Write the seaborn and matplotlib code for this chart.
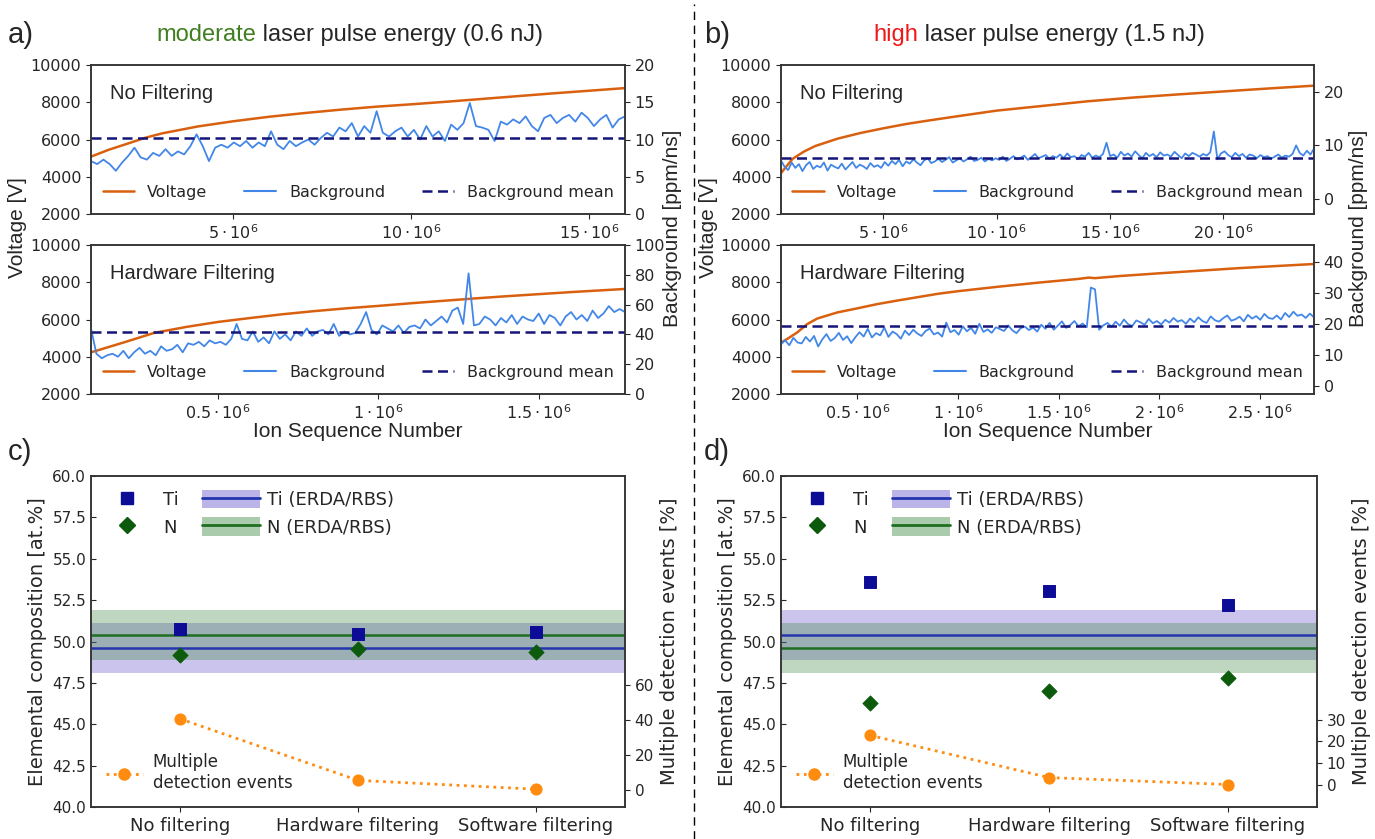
import matplotlib
matplotlib.use("Agg")
import matplotlib.pyplot as plt
from matplotlib.lines import Line2D
from matplotlib.patches import Patch
from matplotlib.legend_handler import HandlerTuple
import seaborn as sns
import numpy as np

# ion sequence numbers are in units of 1e6
# a) moderate pulse energy, no filtering
volt_a1_ion = [1.0, 1.5, 2.0, 2.5, 3.0, 4.0, 5.0, 6.0, 7.0, 8.0, 9.0, 10.0, 11.0, 12.0, 13.0, 14.0, 15.0, 16.0]
volt_a1 = [5080, 5450, 5760, 6080, 6330, 6700, 6980, 7220, 7420, 7600, 7760, 7890, 8030, 8180, 8330, 8480, 8620, 8760]
bg_a1 = [7.1, 6.7, 7.3, 6.7, 5.8, 6.9, 7.8, 8.9, 7.6, 7.3,
         8.2, 7.8, 8.7, 7.8, 8.4, 8.0, 9.1, 10.7, 9.1, 7.1,
         8.9, 9.3, 8.9, 9.6, 9.1, 9.8, 8.9, 9.6, 9.1, 11.1,
         9.3, 8.7, 9.8, 9.1, 9.6, 10.0, 9.3, 10.2, 10.9, 10.4,
         11.6, 11.1, 12.2, 10.4, 11.8, 10.9, 13.8, 10.9, 10.4, 11.1,
         11.6, 10.4, 11.3, 10.0, 11.8, 10.4, 11.1, 9.8, 12.0, 11.3,
         12.2, 14.9, 11.8, 11.6, 11.3, 9.8, 12.4, 12.0, 12.7, 12.2,
         13.1, 11.8, 11.1, 12.9, 13.3, 12.2, 12.9, 13.3, 12.4, 13.6,
         12.9, 11.8, 12.7, 13.3, 11.6, 12.7, 13.1]
bg_a1_span = (1.0, 16.0)
bg_a1_mean = 10.2

# a) moderate pulse energy, hardware filtering
volt_a2_ion = [0.10, 0.15, 0.20, 0.30, 0.40, 0.50, 0.60, 0.70, 0.80, 0.90, 1.00, 1.10, 1.20, 1.30, 1.40, 1.50, 1.60, 1.70, 1.77]
volt_a2 = [4220, 4480, 4740, 5280, 5600, 5870, 6080, 6280, 6450, 6600, 6730, 6870, 7000, 7130, 7250, 7360, 7470, 7570, 7640]
bg_a2 = [44, 27, 24, 26, 27, 25, 29, 24, 28, 31,
         27, 29, 26, 32, 29, 30, 33, 28, 34, 33,
         35, 32, 36, 34, 35, 33, 37, 47, 37, 36,
         42, 35, 38, 34, 42, 37, 40, 36, 42, 39,
         44, 39, 42, 43, 40, 47, 39, 42, 40, 41,
         47, 55, 43, 40, 46, 44, 42, 46, 41, 45,
         46, 44, 50, 46, 49, 52, 48, 56, 58, 47,
         81, 46, 47, 52, 50, 46, 51, 48, 53, 47,
         52, 50, 49, 54, 47, 53, 51, 46, 52, 55,
         50, 53, 49, 56, 51, 54, 59, 55, 57, 55]
bg_a2_span = (0.103, 1.77)
bg_a2_mean = 41.8

# b) high pulse energy, no filtering
volt_b1_ion = [0.49, 1.0, 1.5, 2.0, 3.0, 4.0, 5.0, 6.0, 7.0, 8.0, 10.0, 12.0, 14.0, 16.0, 18.0, 20.0, 22.0, 24.0]
volt_b1 = [4200, 4960, 5350, 5650, 6050, 6350, 6600, 6830, 7020, 7200, 7550, 7800, 8050, 8250, 8420, 8580, 8740, 8890]
bg_b1 = [7.2, 6.0, 5.4, 6.8, 5.8, 6.5, 5.2, 6.3, 6.9, 5.6, 6.2, 5.9, 6.8, 5.3, 6.4, 6.0, 5.7, 6.6, 5.5, 6.2,
         6.9, 5.8, 6.4, 6.1, 5.6, 6.7, 6.0, 6.3,
         5.8, 6.9, 6.2, 7.1, 6.5, 7.3, 6.1, 7.0, 6.6, 7.4, 6.8, 6.3, 7.2, 7.6, 6.7, 7.0,
         7.5, 6.9, 7.3, 7.8, 6.8, 7.2, 7.6, 7.0, 7.4, 7.9, 7.1, 7.3, 7.7, 7.0, 7.5, 7.2,
         7.6, 7.3, 7.9, 7.1, 7.5, 8.0, 7.4, 7.7, 8.1, 7.3, 7.8, 8.4, 7.6, 7.9, 8.2, 7.5,
         8.0, 7.7, 8.3, 7.6, 8.5, 7.8, 8.0, 7.4, 8.2, 7.9, 8.6, 7.7, 8.1, 7.8, 8.4, 10.5,
         8.0, 8.3, 7.7, 8.8, 8.1, 8.5, 7.9, 8.9, 8.2, 7.6, 8.6, 8.0, 8.4, 7.8, 8.7, 8.1,
         8.3, 7.9, 8.8, 8.2, 7.6, 8.5, 8.0, 8.6, 8.3, 7.9, 8.4, 8.1, 8.7, 12.6, 7.4, 8.5,
         8.9, 8.2, 7.8, 8.6, 8.0, 8.4, 7.7, 8.3, 8.1, 7.6, 8.2, 7.8, 8.0, 7.5, 7.9, 8.3,
         7.7, 8.1, 7.9, 8.4, 10.0, 8.6, 8.1, 9.0, 8.3, 9.4]
bg_b1_span = (0.49, 24.0)
bg_b1_mean = 7.6

# b) high pulse energy, hardware filtering
volt_b2_ion = [0.12, 0.15, 0.20, 0.25, 0.30, 0.40, 0.50, 0.60, 0.70, 0.80, 0.90, 1.00, 1.20, 1.40, 1.60, 1.65, 1.68,
               1.80, 2.00, 2.20, 2.40, 2.60, 2.77]
volt_b2 = [4760, 4950, 5300, 5750, 6050, 6380, 6600, 6830, 7020, 7200, 7380, 7520, 7760, 7980, 8180, 8250, 8220,
           8330, 8480, 8620, 8760, 8880, 8980]
bg_b2 = [13.5, 14.8, 13.2, 15.6, 14.1, 13.8, 15.9, 14.4, 16.2, 12.8, 15.1, 16.8, 14.6, 15.5, 17.2, 14.9, 16.1, 13.9, 15.8, 17.4,
         16.0, 18.5, 15.7, 17.1, 16.4, 18.9, 15.9, 17.6, 16.8, 15.3, 17.9, 16.5, 18.2, 17.0, 16.2, 17.8, 18.6, 16.7, 17.3, 16.0,
         20.5, 17.4, 18.1, 16.6, 19.3, 17.7, 18.8, 16.9, 20.1, 17.5, 18.3, 17.2, 19.0, 18.4, 17.8, 19.6, 18.0, 17.1, 18.7, 19.2,
         18.1, 18.9, 17.6, 19.8, 18.5, 20.4, 18.2, 19.5, 20.9, 18.8, 19.7, 21.0, 19.3, 20.2, 19.0, 31.8, 31.2, 18.2, 19.6, 20.4,
         19.1, 20.8, 19.5, 21.5, 20.0, 19.4, 21.2, 20.6, 19.8, 21.7, 20.3, 21.0, 19.9, 21.4, 20.5, 22.0, 20.8, 21.3, 20.1, 21.8,
         20.6, 22.2, 21.0, 20.4, 22.5, 21.3, 20.8, 21.9, 22.8, 21.1, 21.6, 22.4, 20.9, 23.0, 21.8, 22.6, 21.4, 23.3, 22.0, 21.7,
         22.8, 21.5, 23.6, 22.3, 24.0, 22.7, 23.1, 22.0, 23.4, 22.2]
bg_b2_span = (0.12, 2.77)
bg_b2_mean = 19.5

# c) / d) composition
categories = ['No filtering', 'Hardware filtering', 'Software filtering']
ti_c = [50.75, 50.45, 50.6]
n_c = [49.2, 49.55, 49.35]
ti_erda_c = 49.6
n_erda_c = 50.4
multi_c = [40.6, 5.3, 0.2]
ti_d = [53.6, 53.05, 52.2]
n_d = [46.3, 47.0, 47.8]
ti_erda_d = 50.4
n_erda_d = 49.6
multi_d = [22.8, 3.3, 0.1]
erda_err = 1.5

sns.set_style("ticks")
plt.rcParams['font.family'] = ['DejaVu Sans']
plt.rcParams['axes.edgecolor'] = '#333333'
plt.rcParams['axes.linewidth'] = 1.1
HEAD = ['Liberation Sans', 'DejaVu Sans']

c_volt = '#d9600f'
c_bg = '#4287e8'
c_mean = '#14147a'
c_ti = '#0c0c96'
c_n = '#0c5a0c'
c_ti_band = '#6a5acd'
c_n_band = '#2e7d32'
c_ti_line = '#2535b0'
c_n_line = '#1f6e23'
c_or = '#ff8c0f'

W, H = 1375, 839
fig = plt.figure(figsize=(W / 100, H / 100), dpi=100)


def px(l, t, r, b):
    return [l / W, 1 - b / H, (r - l) / W, (b - t) / H]


def trace_panel(rect, ion, volt, bg, span, mean, xlim, xticks, rlim, rticks, name, xlabel=False):
    ax = fig.add_axes(rect)
    ax2 = ax.twinx()
    sns.lineplot(x=np.array(ion) * 1e6, y=volt, ax=ax, color=c_volt, lw=1.8)
    bx = np.linspace(span[0], span[1], len(bg)) * 1e6
    sns.lineplot(x=bx, y=bg, ax=ax2, color=c_bg, lw=1.3)
    ax2.axhline(mean, color=c_mean, lw=1.8, dashes=(4, 2.2))
    ax.set_xlim(xlim[0] * 1e6, xlim[1] * 1e6)
    ax.set_ylim(2000, 10000)
    ax.set_yticks(range(2000, 10001, 2000))
    ax.set_xticks([t * 1e6 for t in xticks], [f'${t:g}\\cdot10^{{6}}$' for t in xticks])
    ax2.set_ylim(*rlim)
    ax2.set_yticks(rticks)
    ax.tick_params(labelsize=11.5)
    ax2.tick_params(labelsize=11.5)
    ax.set_ylabel('')
    ax2.set_ylabel('')
    ax.set_xlabel('')
    if xlabel:
        ax.set_xlabel('Ion Sequence Number', fontsize=15, family=HEAD, labelpad=0)
    ax.text(0.036, 0.81, name, transform=ax.transAxes, fontsize=14.5, family=HEAD, va='center')
    handles = [Line2D([], [], color=c_volt, lw=1.8), Line2D([], [], color=c_bg, lw=1.5),
               Line2D([], [], color=c_mean, lw=1.8, dashes=(4, 2.2))]
    ax2.legend(handles, ['Voltage', 'Background', 'Background mean'], loc='lower center', ncol=3,
               frameon=False, fontsize=11.5, columnspacing=2.3)
    return ax, ax2


def comp_panel(rect, ti, n, ti_ref, n_ref, multi, rlim, rticks):
    ax = fig.add_axes(rect)
    ax2 = ax.twinx()
    pos = np.arange(len(categories))
    ax.axhspan(ti_ref - erda_err, ti_ref + erda_err, color=c_ti_band, alpha=0.35, lw=0)
    ax.axhspan(n_ref - erda_err, n_ref + erda_err, color=c_n_band, alpha=0.3, lw=0)
    ax.axhline(ti_ref, color=c_ti_line, lw=1.8)
    ax.axhline(n_ref, color=c_n_line, lw=1.8)
    sns.scatterplot(x=pos, y=ti, ax=ax, marker='s', s=75, color=c_ti, edgecolor=c_ti, zorder=3)
    sns.scatterplot(x=pos, y=n, ax=ax, marker='D', s=60, color=c_n, edgecolor=c_n, zorder=3)
    sns.lineplot(x=pos, y=multi, ax=ax2, color=c_or, lw=2, linestyle=':', marker='o', markersize=8,
                 markeredgecolor=c_or)
    ax.set_xlim(-0.5, 2.5)
    ax.set_xticks(pos, categories)
    ax.set_ylim(40, 60)
    ax.set_yticks(np.arange(40, 60.01, 2.5))
    ax.yaxis.set_major_formatter('{x:.1f}')
    ax.tick_params(axis='y', direction='in', labelsize=11)
    ax.tick_params(axis='x', labelsize=13)
    ax2.set_ylim(*rlim)
    ax2.set_yticks(rticks)
    ax2.tick_params(labelsize=11)
    ax.set_ylabel('Elemental composition [at.%]', fontsize=14)
    ax2.set_ylabel('Multiple detection events [%]', fontsize=14)
    h_ti = Line2D([], [], marker='s', color=c_ti, ls='none', markersize=9)
    h_n = Line2D([], [], marker='D', color=c_n, ls='none', markersize=8)
    h_tiref = (Patch(facecolor=c_ti_band, alpha=0.45, lw=0), Line2D([], [], color=c_ti_line, lw=2))
    h_nref = (Patch(facecolor=c_n_band, alpha=0.4, lw=0), Line2D([], [], color=c_n_line, lw=2))
    ax.legend([h_ti, h_n, h_tiref, h_nref], ['Ti', 'N', 'Ti (ERDA/RBS)', 'N (ERDA/RBS)'], ncol=2,
              handler_map={tuple: HandlerTuple(ndivide=1, pad=0)}, handlelength=3.2, handleheight=1.2,
              loc='upper left', bbox_to_anchor=(0.0, 0.98), frameon=False, fontsize=13,
              labelspacing=0.45, columnspacing=1.3, handletextpad=0.4, borderaxespad=0.0)
    ax2.legend([Line2D([], [], color=c_or, lw=2, ls=':', marker='o', markersize=8)],
               ['Multiple\ndetection events'], loc='lower left', frameon=False, fontsize=12,
               handlelength=2.2, handletextpad=0.6, borderaxespad=0.5)
    return ax, ax2


trace_panel(px(91, 65, 625, 214), volt_a1_ion, volt_a1, bg_a1, bg_a1_span, bg_a1_mean,
            (1.0, 16.0), [5, 10, 15], (0, 20), [0, 5, 10, 15, 20], 'No Filtering')
trace_panel(px(91, 245, 625, 394), volt_a2_ion, volt_a2, bg_a2, bg_a2_span, bg_a2_mean,
            (0.103, 1.77), [0.5, 1, 1.5], (0, 100), [0, 20, 40, 60, 80, 100], 'Hardware Filtering', True)
trace_panel(px(781, 65, 1314, 214), volt_b1_ion, volt_b1, bg_b1, bg_b1_span, bg_b1_mean,
            (0.49, 24.0), [5, 10, 15, 20], (-2.8, 25), [0, 10, 20], 'No Filtering')
trace_panel(px(781, 245, 1314, 394), volt_b2_ion, volt_b2, bg_b2, bg_b2_span, bg_b2_mean,
            (0.12, 2.77), [0.5, 1, 1.5, 2, 2.5], (-2.5, 45.5), [0, 10, 20, 30, 40], 'Hardware Filtering', True)

comp_panel(px(91, 476, 625, 807), ti_c, n_c, ti_erda_c, n_erda_c, multi_c, (-10, 180), [0, 20, 40, 60])
comp_panel(px(781, 476, 1317, 807), ti_d, n_d, ti_erda_d, n_erda_d, multi_d, (-10.3, 142.7), [0, 10, 20, 30])

fig.text(18 / W, 1 - 228 / H, 'Voltage [V]', rotation=90, va='center', ha='center', fontsize=15, family=HEAD)
fig.text(708 / W, 1 - 228 / H, 'Voltage [V]', rotation=90, va='center', ha='center', fontsize=15, family=HEAD)
fig.text(672 / W, 1 - 228 / H, 'Background [ppm/ns]', rotation=90, va='center', ha='center', fontsize=15, family=HEAD)
fig.text(1359 / W, 1 - 228 / H, 'Background [ppm/ns]', rotation=90, va='center', ha='center', fontsize=15, family=HEAD)

ty = 1 - 35 / H
fig.text(8 / W, ty, 'a)', fontsize=21, family=HEAD, va='center')
fig.text(256 / W, ty, 'moderate', color='#3f7f1f', ha='right', va='center', fontsize=17, family=HEAD)
fig.text(256 / W, ty, ' laser pulse energy (0.6 nJ)', ha='left', va='center', fontsize=17, family=HEAD)
fig.text(704 / W, ty, 'b)', fontsize=21, family=HEAD, va='center')
fig.text(918 / W, ty, 'high', color='#ee1a1a', ha='right', va='center', fontsize=17, family=HEAD)
fig.text(918 / W, ty, ' laser pulse energy (1.5 nJ)', ha='left', va='center', fontsize=17, family=HEAD)
fig.text(8 / W, 1 - 452 / H, 'c)', fontsize=21, family=HEAD, va='center')
fig.text(704 / W, 1 - 452 / H, 'd)', fontsize=21, family=HEAD, va='center')

fig.add_artist(Line2D([694 / W, 694 / W], [0, 1 - 4 / H], transform=fig.transFigure, color='k', lw=1,
                      dashes=(6, 4)))

fig.savefig('out.png', dpi=100)
